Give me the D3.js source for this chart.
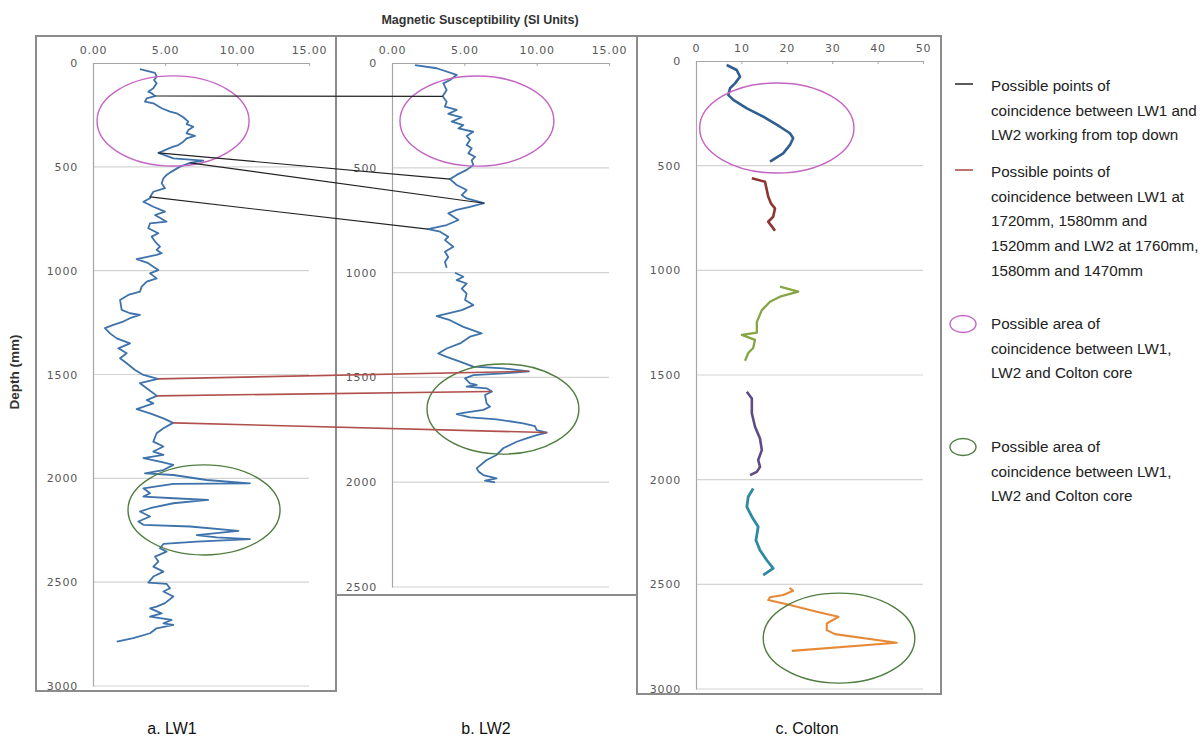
<!DOCTYPE html>
<html><head><meta charset="utf-8">
<script src="https://cdn.jsdelivr.net/npm/d3@7"></script>
<style>
body{margin:0;background:#fff;}
svg{display:block;}
</style></head>
<body>
<svg id="chart" width="1204" height="738"></svg>
<script>
// ---------- DATA ----------
// LW1 core: [depth mm, magnetic susceptibility SI]
const lw1 = [[30,3.26],[47,4.3],[66,4.42],[82,4.24],[98,4.42],[122,4.19],[138,3.84],[146,4.07],[159,4.3],[170,3.73],[186,3.61],[194,4.19],[218,4.77],[234,5.35],[242,5.81],[261,6.27],[282,6.62],[294,6.5],[307,6.97],[323,6.62],[339,6.5],[351,7.08],[363,6.5],[379,6.27],[395,5.93],[403,5.58],[416,5.11],[427,4.77],[433,4.54],[459,5.58],[470,7.66],[481,6.74],[499,6.04],[523,5.46],[539,5.11],[555,4.89],[579,4.77],[603,5.0],[620,4.19],[645,3.96],[651,3.96],[668,3.5],[692,4.19],[716,5.0],[732,4.31],[764,5.11],[772,3.96],[796,3.84],[820,4.54],[836,4.07],[860,4.31],[884,4.65],[900,4.42],[916,4.77],[924,4.42],[944,3.03],[964,3.84],[981,4.19],[997,4.54],[1013,3.96],[1037,4.42],[1053,3.73],[1077,3.38],[1101,3.26],[1117,2.45],[1141,1.88],[1189,1.99],[1205,2.57],[1213,3.26],[1229,2.57],[1245,2.1],[1261,1.41],[1277,0.83],[1302,1.18],[1326,1.65],[1350,2.57],[1374,1.76],[1398,2.34],[1422,1.88],[1446,2.34],[1478,2.92],[1502,3.5],[1521,4.51],[1542,3.26],[1566,3.73],[1603,4.44],[1623,3.73],[1639,4.19],[1667,3.03],[1687,3.96],[1711,4.89],[1733,5.56],[1759,4.89],[1783,4.42],[1823,4.19],[1847,4.89],[1871,4.19],[1887,4.89],[1903,3.5],[1919,4.65],[1935,5.58],[1960,4.89],[1976,3.61],[1984,5.58],[2008,7.9],[2024,10.9],[2027,5.58],[2048,3.5],[2072,3.96],[2088,3.5],[2096,5.58],[2104,8.0],[2120,5.58],[2144,3.96],[2160,3.26],[2184,3.96],[2208,3.15],[2224,3.5],[2232,6.74],[2253,10.1],[2273,7.2],[2284,8.59],[2293,10.9],[2305,7.2],[2316,4.89],[2337,4.65],[2353,5.11],[2377,4.31],[2401,4.54],[2425,4.19],[2449,4.89],[2473,4.19],[2502,3.84],[2508,5.11],[2529,5.35],[2545,4.89],[2569,5.58],[2601,5.0],[2618,4.42],[2626,3.96],[2650,4.77],[2666,3.96],[2682,5.46],[2698,4.89],[2706,5.58],[2722,4.42],[2746,3.96],[2770,2.8],[2786,1.65]];

// LW2 core
const lw2 = [[10,1.59],[25,3.09],[57,4.47],[81,4.01],[97,3.55],[129,3.78],[159,3.5],[185,3.78],[208,3.66],[224,4.47],[243,3.89],[259,4.82],[280,4.13],[296,4.93],[312,4.59],[328,5.62],[348,5.16],[367,5.39],[391,5.16],[407,5.51],[431,5.28],[447,5.74],[465,5.51],[487,5.62],[510,5.16],[534,4.47],[554,4.01],[582,4.47],[606,5.16],[630,4.82],[646,5.16],[669,6.36],[686,5.39],[701,4.47],[717,3.89],[749,4.59],[773,3.78],[793,2.49],[805,3.32],[829,3.89],[845,3.66],[877,4.24],[901,3.66],[925,3.89],[949,3.66],[977,3.78],[null,null],[1001,4.36],[1020,4.93],[1036,4.47],[1052,5.16],[1076,4.82],[1100,5.16],[1131,5.05],[1155,5.62],[1179,4.82],[1208,3.09],[1227,4.01],[1259,4.93],[1282,5.85],[1290,6.2],[1306,5.39],[1338,4.7],[1362,3.78],[1386,3.2],[1402,3.78],[1425,4.7],[1449,5.62],[1457,7.69],[1471,9.47],[1481,7.69],[1489,5.62],[1505,5.05],[1528,5.39],[1536,5.85],[1544,5.16],[1552,6.54],[1567,6.91],[1584,6.43],[1624,6.54],[1640,6.77],[1655,6.31],[1668,5.05],[1675,4.47],[1691,5.39],[1700,7.23],[1719,9.07],[1732,9.88],[1751,10.0],[1763,10.7],[1775,10.0],[1791,9.3],[1807,8.61],[1838,7.69],[1870,7.23],[1894,6.54],[1934,5.85],[1950,6.0],[1966,6.31],[1982,7.23],[1993,6.43],[2001,7.12]];

// Colton core: six separately coloured sections
const colton1 = [[19,6.76],[43,8.96],[75,9.69],[107,8.59],[130,7.49],[163,7.12],[186,8.22],[226,11.2],[266,14.8],[314,18.5],[345,20.7],[369,21.4],[401,20.7],[441,19.2],[481,16.3]];
const colton2 = [[560,12.3],[577,15.2],[616,15.6],[647,15.9],[680,16.5],[704,17.4],[744,17.0],[768,15.9],[790,16.7],[811,17.4]];
const colton3 = [[1078,18.5],[1102,22.5],[1126,18.5],[1150,16.3],[1190,14.5],[1246,13.4],[1298,13.4],[1308,10.1],[1332,13.0],[1371,12.6],[1395,11.5],[1432,10.8]];
const colton4 = [[1580,11.2],[1612,12.3],[1683,12.3],[1747,13.0],[1803,14.1],[1859,14.5],[1906,13.7],[1939,14.1],[1963,13.4],[1978,11.9]];
const colton5 = [[2042,12.6],[2082,11.5],[2130,11.2],[2177,12.3],[2225,13.7],[2289,13.2],[2337,14.1],[2385,15.6],[2424,17.0],[2456,14.8]];
const colton6 = [[2516,20.6],[2531,21.4],[2551,19.2],[2562,16.3],[2575,15.9],[2599,20.7],[2631,26.6],[2655,31.4],[2687,28.8],[2719,28.8],[2738,30.6],[2779,44.2],[2818,21.1]];

// Correlation tie lines: [LW1 depth, LW1 value, LW2 depth, LW2 value]
const blackTies = [[159,4.3,159,3.5],[433,4.54,554,4.01],[481,6.74,669,6.36],[645,3.96,793,2.49]];
const redTies = [[1521,4.51,1471,9.47],[1603,4.44,1567,6.91],[1733,5.56,1763,10.7]];

// Areas of coincidence: [centre value, centre depth, half-width (value), half-height (depth)]
const magentaAreas = {a:[5.56,279,5.28,217], b:[5.87,277,5.32,215], c:[17.8,320,17.0,215]};
const greenAreas = {a:[7.71,2152,5.28,217], b:[7.67,1651,5.25,215], c:[31.5,2757,16.7,215]};

const lwTicks = [0,5,10,15];
const coltonTicks = [0,10,20,30,40,50];
const depthTicks3000 = [0,500,1000,1500,2000,2500,3000];
const depthTicks2500 = [0,500,1000,1500,2000,2500];

const titleText = "Magnetic Susceptibility (SI Units)";
const yLabel = "Depth (mm)";
const panelLabels = ["a. LW1","b. LW2","c. Colton"];
const legendItems = [
  {type:"line", color:"#333333", lines:["Possible points of","coincidence between LW1 and","LW2 working from top down"]},
  {type:"line", color:"#b0504c", lines:["Possible points of","coincidence between LW1 at","1720mm, 1580mm and","1520mm and LW2 at 1760mm,","1580mm and 1470mm"]},
  {type:"ellipse", color:"#c464c4", lines:["Possible area of","coincidence between LW1,","LW2 and Colton core"]},
  {type:"ellipse", color:"#4f7d3f", lines:["Possible area of","coincidence between LW1,","LW2 and Colton core"]}
];

// ---------- LAYOUT ----------
const svg = d3.select("#chart");
const tickFont = "'DejaVu Sans', sans-serif";
const textFont = "'Liberation Sans', Arial, sans-serif";

const panels = {
  a:{frame:[36,36,300,655], x:d3.scaleLinear([0,15],[93,309]), y:d3.scaleLinear([0,3000],[63,686]), xt:lwTicks, yt:depthTicks3000, fmt:d3.format(".2f")},
  b:{frame:[336,36,301,559], x:d3.scaleLinear([0,15],[392,609]), y:d3.scaleLinear([0,2500],[63,587]), xt:lwTicks, yt:depthTicks2500, fmt:d3.format(".2f")},
  c:{frame:[637,36,304,658], x:d3.scaleLinear([0,50],[696,923]), y:d3.scaleLinear([0,3000],[61,689]), xt:coltonTicks, yt:depthTicks3000, fmt:d3.format("d")}
};

function drawPanel(p){
  const [fx,fy,fw,fh] = p.frame;
  svg.append("rect").attr("x",fx).attr("y",fy).attr("width",fw).attr("height",fh)
    .attr("fill","none").attr("stroke","#8c8c8c").attr("stroke-width",2);
  const [x0,x1] = p.x.range();
  const [y0,y1] = p.y.range();
  // gridlines
  svg.append("g").selectAll("line").data(p.yt.filter(d=>d>0)).join("line")
    .attr("x1",x0).attr("x2",x1).attr("y1",d=>p.y(d)).attr("y2",d=>p.y(d))
    .attr("stroke","#d4d4d4").attr("stroke-width",1.2);
  // top axis
  const gx = svg.append("g").attr("transform",`translate(0,${y0})`)
    .call(d3.axisTop(p.x).tickValues(p.xt).tickFormat(p.fmt).tickSizeInner(-3).tickSizeOuter(0).tickPadding(9));
  gx.select(".domain").attr("stroke","#a6a6a6").attr("stroke-width",1.2);
  gx.selectAll(".tick line").attr("stroke","#a6a6a6");
  gx.selectAll("text").attr("font-family",tickFont).attr("font-size",11).attr("letter-spacing",0.8).attr("fill","#595959");
  // left axis
  const gy = svg.append("g").attr("transform",`translate(${x0},0)`)
    .call(d3.axisLeft(p.y).tickValues(p.yt).tickFormat(d3.format("d")).tickSize(0).tickPadding(15));
  gy.select(".domain").attr("stroke","#a6a6a6").attr("stroke-width",1.2);
  gy.selectAll("text").attr("font-family",tickFont).attr("font-size",11).attr("letter-spacing",0.8).attr("fill","#595959");
}
Object.values(panels).forEach(drawPanel);

function curve(p,data,color,w){
  const line = d3.line().defined(d=>d[0]!==null).x(d=>p.x(d[1])).y(d=>p.y(d[0]));
  svg.append("path").datum(data).attr("d",line).attr("fill","none")
    .attr("stroke",color).attr("stroke-width",w).attr("stroke-linejoin","round");
}
curve(panels.a,lw1,"#3d72ab",1.8);
curve(panels.b,lw2,"#3d72ab",1.8);
curve(panels.c,colton1,"#2f5f8f",2.6);
curve(panels.c,colton2,"#8e3431",2.6);
curve(panels.c,colton3,"#86a545",2.3);
curve(panels.c,colton4,"#5f4b85",2.6);
curve(panels.c,colton5,"#2e8aa3",2.8);
curve(panels.c,colton6,"#e68a3a",2.1);

// coincidence ellipses
function ell(p,a,color){
  const [cx,cy,rx,ry]=a;
  svg.append("ellipse").attr("cx",p.x(cx)).attr("cy",p.y(cy))
    .attr("rx",Math.abs(p.x(cx+rx)-p.x(cx))).attr("ry",Math.abs(p.y(cy+ry)-p.y(cy)))
    .attr("fill","none").attr("stroke",color).attr("stroke-width",1.4);
}
["a","b","c"].forEach(k=>{ell(panels[k],magentaAreas[k],"#c464c4"); ell(panels[k],greenAreas[k],"#4f7d3f");});

// tie lines
function ties(data,color,w){
  svg.append("g").selectAll("line").data(data).join("line")
    .attr("x1",d=>panels.a.x(d[1])).attr("y1",d=>panels.a.y(d[0]))
    .attr("x2",d=>panels.b.x(d[3])).attr("y2",d=>panels.b.y(d[2]))
    .attr("stroke",color).attr("stroke-width",w);
}
ties(blackTies,"#222222",1.2);
ties(redTies,"#b0504c",1.6);

// title & labels
svg.append("text").attr("x",480).attr("y",24).attr("text-anchor","middle")
  .attr("font-family",textFont).attr("font-size",12.5).attr("font-weight","bold").attr("fill","#333")
  .text(titleText);
svg.append("text").attr("transform","translate(19,372) rotate(-90)").attr("text-anchor","middle")
  .attr("font-family",textFont).attr("font-size",13.5).attr("font-weight","bold").attr("fill","#333")
  .text(yLabel);
const labelX = [172,486,807];
svg.append("g").selectAll("text").data(panelLabels).join("text")
  .attr("x",(d,i)=>labelX[i]).attr("y",734).attr("text-anchor","middle")
  .attr("font-family",textFont).attr("font-size",16).attr("fill","#111").text(d=>d);

// legend
const legTop = [86,172,324,447];
const lg = svg.append("g");
legendItems.forEach((it,i)=>{
  const y0 = legTop[i];
  if(it.type==="line"){
    lg.append("line").attr("x1",955).attr("x2",973).attr("y1",y0-2).attr("y2",y0-2)
      .attr("stroke",it.color).attr("stroke-width",1.6);
  } else {
    lg.append("ellipse").attr("cx",963).attr("cy",y0).attr("rx",13).attr("ry",8.5)
      .attr("fill","none").attr("stroke",it.color).attr("stroke-width",1.4);
  }
  it.lines.forEach((t,j)=>{
    lg.append("text").attr("x",991).attr("y",y0+5+j*24.7)
      .attr("font-family",textFont).attr("font-size",15.2).attr("fill","#222").text(t);
  });
});
</script>
</body></html>
